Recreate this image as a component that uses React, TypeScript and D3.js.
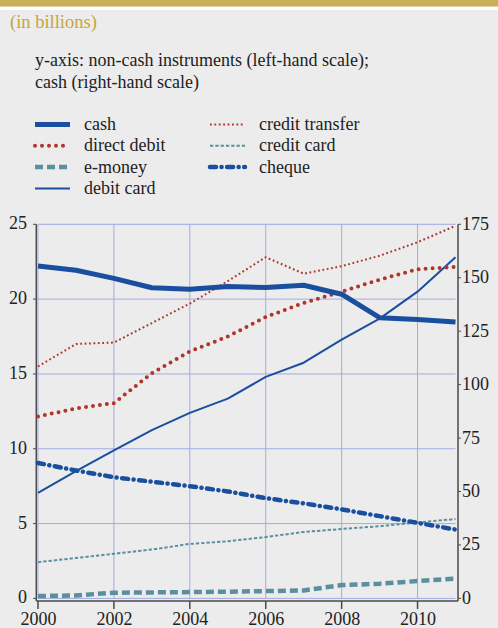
import React from 'react';
import * as d3 from 'd3';

// years on the x axis
const years = [2000, 2001, 2002, 2003, 2004, 2005, 2006, 2007, 2008, 2009, 2010, 2011];

// cash, right-hand scale
const cash = [155.5, 153.5, 149.7, 145.3, 144.6, 145.9, 145.4, 146.5, 142.3, 131.3, 130.5, 129.3];

// non-cash instruments, left-hand scale
const creditTransfer = [15.5, 17.0, 17.1, 18.4, 19.7, 21.2, 22.8, 21.7, 22.2, 22.9, 23.8, 24.9];
const directDebit = [12.15, 12.7, 13.05, 15.05, 16.5, 17.5, 18.8, 19.75, 20.5, 21.3, 22.0, 22.15];
const debitCard = [7.05, 8.5, 9.9, 11.25, 12.4, 13.35, 14.8, 15.75, 17.3, 18.7, 20.5, 22.8];
const cheque = [9.05, 8.55, 8.1, 7.8, 7.5, 7.15, 6.7, 6.35, 5.95, 5.5, 5.05, 4.6];
const creditCard = [2.42, 2.7, 2.98, 3.27, 3.64, 3.82, 4.1, 4.44, 4.64, 4.82, 5.08, 5.3];
const eMoney = [0.16, 0.2, 0.38, 0.4, 0.42, 0.45, 0.49, 0.53, 0.89, 0.98, 1.16, 1.33];

const leftTicks = [0, 5, 10, 15, 20, 25];
const rightTicks = [0, 25, 50, 75, 100, 125, 150, 175];
const xTicks = [2000, 2002, 2004, 2006, 2008, 2010];

const W = 498;
const H = 628;
const BG = '#ececec';
const BLUE = '#1a4f9f';
const RED = '#b0362c';
const TEAL = '#5a909e';
const GRID = '#a2abe6';
const AXIS = '#4a4a4a';
const TEXT = '#222';
const FONT = 'Liberation Serif, DejaVu Serif, serif';

type Style = { color: string; width: number; dash?: string; cap?: 'round' | 'butt' };

const styles: Record<string, Style> = {
  cash: { color: BLUE, width: 5 },
  directDebit: { color: RED, width: 4, dash: '0 7', cap: 'round' },
  eMoney: { color: TEAL, width: 4.5, dash: '8 4' },
  debitCard: { color: BLUE, width: 2 },
  creditTransfer: { color: RED, width: 2, dash: '1.8 2.6' },
  creditCard: { color: TEAL, width: 2, dash: '3.3 2' },
  cheque: { color: BLUE, width: 4.5, dash: '6 5.5 0.1 5.5', cap: 'round' },
};

const App: React.FC = () => {
  const x = d3.scaleLinear().domain([2000, 2011]).range([38, 455.5]);
  const yL = d3.scaleLinear().domain([0, 25]).range([598.4, 224.3]);
  const yR = d3.scaleLinear().domain([0, 175]).range([598.4, 224.3]);

  const lineL = d3.line<number>().x((_, i) => x(years[i])).y(d => yL(d));
  const lineR = d3.line<number>().x((_, i) => x(years[i])).y(d => yR(d));

  const series: { key: string; data: number[]; right?: boolean }[] = [
    { key: 'eMoney', data: eMoney },
    { key: 'creditCard', data: creditCard },
    { key: 'cheque', data: cheque },
    { key: 'debitCard', data: debitCard },
    { key: 'directDebit', data: directDebit },
    { key: 'creditTransfer', data: creditTransfer },
    { key: 'cash', data: cash, right: true },
  ];

  const legend = [
    { key: 'cash', label: 'cash', col: 0, row: 0 },
    { key: 'directDebit', label: 'direct debit', col: 0, row: 1 },
    { key: 'eMoney', label: 'e-money', col: 0, row: 2 },
    { key: 'debitCard', label: 'debit card', col: 0, row: 3 },
    { key: 'creditTransfer', label: 'credit transfer', col: 1, row: 0 },
    { key: 'creditCard', label: 'credit card', col: 1, row: 1 },
    { key: 'cheque', label: 'cheque', col: 1, row: 2 },
  ];

  const [x0, x1] = x.range();
  const [yb, yt] = yL.range();

  const strokeProps = (s: Style) => ({
    stroke: s.color,
    strokeWidth: s.width,
    strokeDasharray: s.dash,
    strokeLinecap: s.cap ?? 'butt',
    fill: 'none',
  });

  return (
    <div style={{ position: 'absolute', left: 0, top: 0 }}>
      <svg width={W} height={H} style={{ display: 'block' }} fontFamily={FONT}>
        <rect x={0} y={0} width={W} height={H} fill={BG} />
        <rect x={0} y={0} width={W} height={6.7} fill="#c9b054" />
        <rect x={0} y={6.7} width={W} height={3.3} fill="#fff" />

        <text x={10} y={28} fontSize={18.5} fill="#c4a63c" fontFamily={FONT}>(in billions)</text>
        <text x={35} y={65.5} fontSize={18} fill={TEXT} fontFamily={FONT}>y-axis: non-cash instruments (left-hand scale);</text>
        <text x={35} y={87.5} fontSize={18} fill={TEXT} fontFamily={FONT}>cash (right-hand scale)</text>

        {/* legend */}
        {legend.map(l => {
          const lx = l.col === 0 ? 35 : 210;
          const ly = 124.5 + l.row * 21.3;
          return (
            <g key={l.key}>
              <line x1={lx} x2={lx + 35} y1={ly} y2={ly} {...strokeProps(styles[l.key])} />
              <text x={lx + 49} y={ly + 5.5} fontSize={18} fill={TEXT} fontFamily={FONT}>{l.label}</text>
            </g>
          );
        })}

        {/* grid */}
        {leftTicks.map(t => (
          <line key={'h' + t} x1={x0} x2={x1} y1={yL(t)} y2={yL(t)} stroke={GRID} strokeWidth={1} />
        ))}
        {xTicks.map(t => (
          <line key={'v' + t} x1={x(t)} x2={x(t)} y1={yt} y2={yb} stroke={GRID} strokeWidth={1} />
        ))}

        {/* axes */}
        <line x1={36.3} x2={36.3} y1={yt} y2={601} stroke={AXIS} strokeWidth={1.5} />
        <line x1={458} x2={458} y1={yt} y2={601} stroke={AXIS} strokeWidth={1.5} />
        <line x1={36.3} x2={458} y1={601} y2={601} stroke={AXIS} strokeWidth={1.5} />

        {leftTicks.map(t => (
          <g key={'lt' + t}>
            <line x1={33} x2={36.3} y1={yL(t)} y2={yL(t)} stroke={AXIS} strokeWidth={1} />
            <text x={27} y={yL(t) + 5} fontSize={18} fill={TEXT} textAnchor="end" fontFamily={FONT}>{t}</text>
          </g>
        ))}
        {rightTicks.map(t => (
          <g key={'rt' + t}>
            <line x1={458} x2={461} y1={yR(t)} y2={yR(t)} stroke={AXIS} strokeWidth={1} />
            <text x={462} y={yR(t) + 5.5} fontSize={18} fill={TEXT} fontFamily={FONT}>{t}</text>
          </g>
        ))}
        {xTicks.map(t => (
          <g key={'xt' + t}>
            <line x1={x(t)} x2={x(t)} y1={601} y2={609} stroke={AXIS} strokeWidth={1.5} />
            <text x={x(t) + 0.5} y={625} fontSize={18} fill={TEXT} textAnchor="middle" fontFamily={FONT}>{t}</text>
          </g>
        ))}

        {/* series */}
        {series.map(s => (
          <path
            key={s.key}
            d={(s.right ? lineR : lineL)(s.data) ?? ''}
            strokeLinejoin="round"
            {...strokeProps(styles[s.key])}
          />
        ))}
      </svg>
    </div>
  );
};

export default App;
